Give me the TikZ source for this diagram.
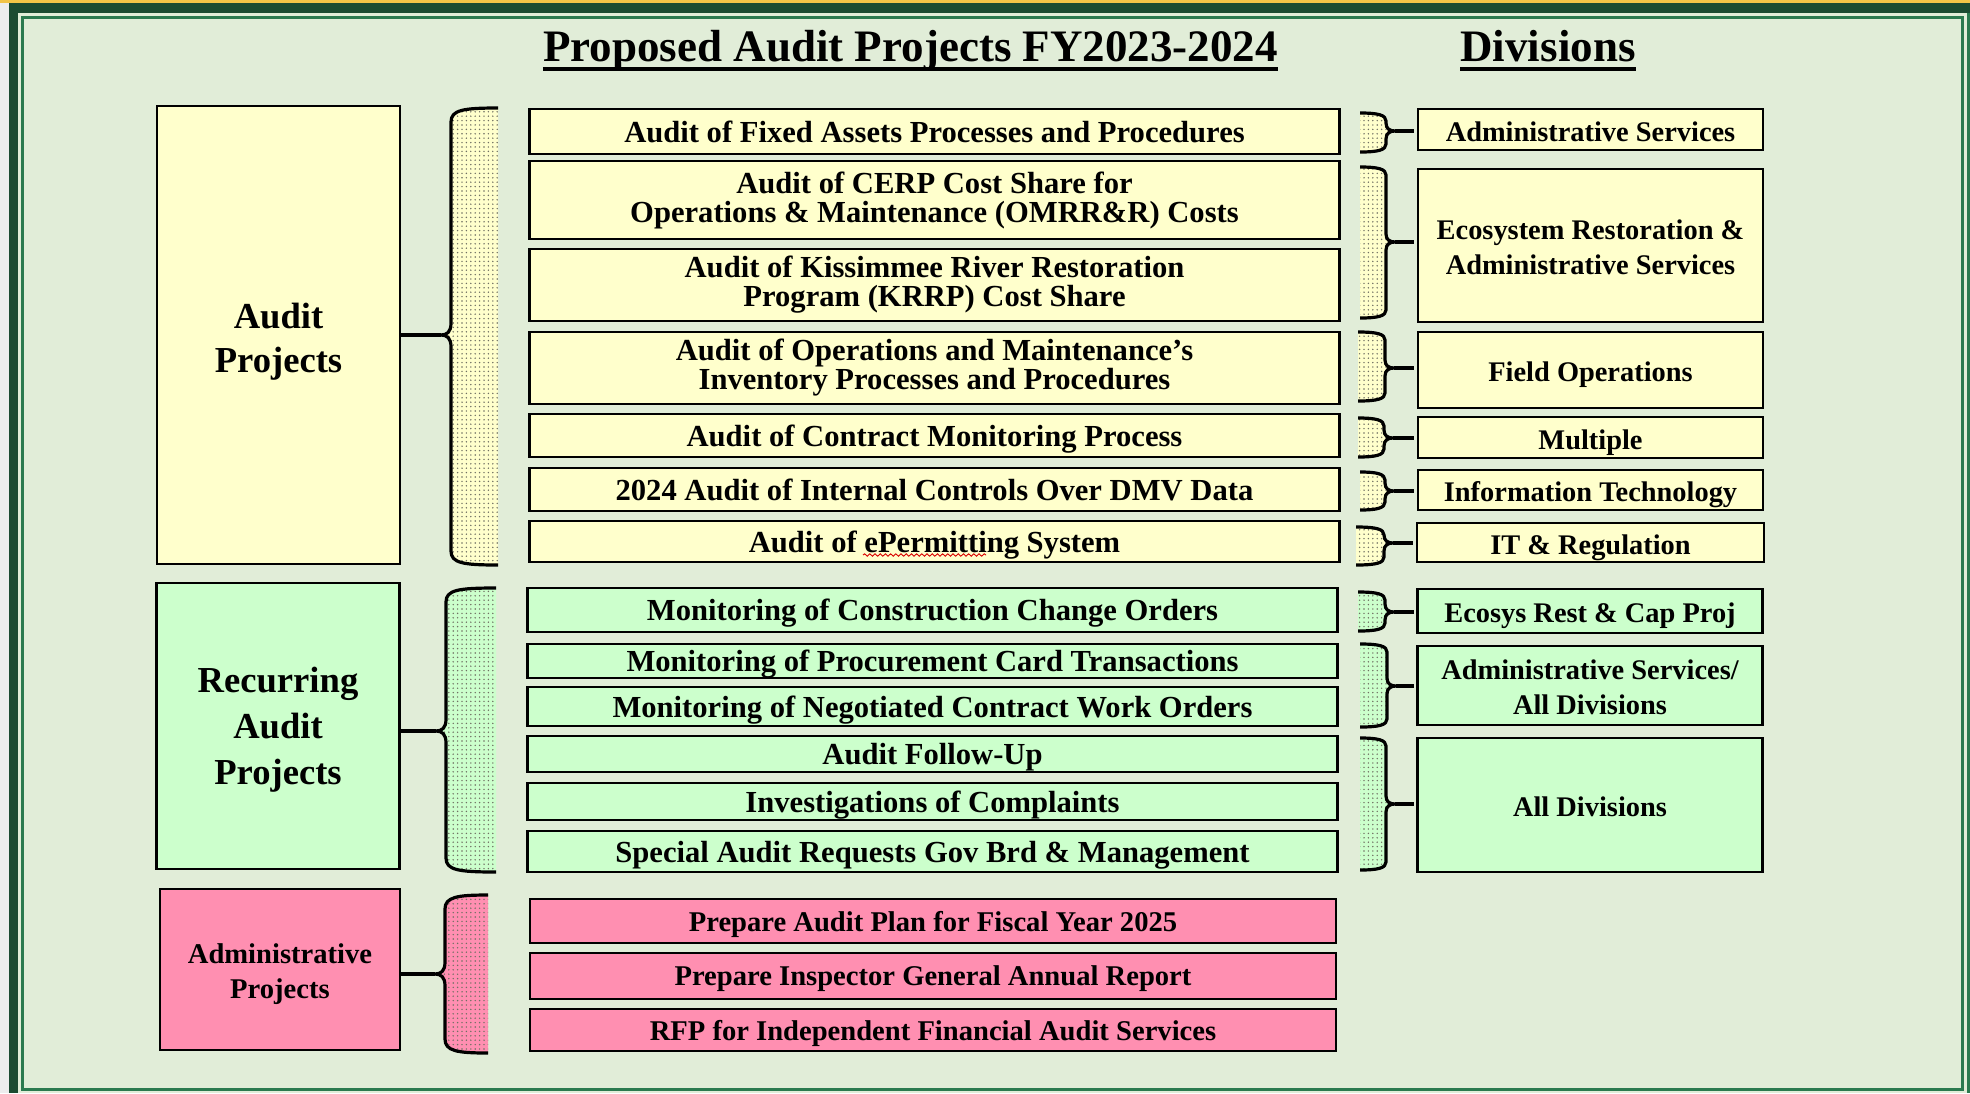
\documentclass[tikz,border=0pt]{standalone}
\usepackage{fontspec}
\setmainfont{Liberation Serif}
\usetikzlibrary{positioning,patterns.meta,decorations.pathmorphing}

\definecolor{pagebg}{HTML}{E1EDD8}
\definecolor{framedark}{HTML}{1B4B31}
\definecolor{frameline}{HTML}{2B7A4F}
\definecolor{topstrip}{HTML}{F2C447}
\definecolor{auditfill}{HTML}{FFFFCC}
\definecolor{recurfill}{HTML}{CCFFCC}
\definecolor{adminfill}{HTML}{FF8FB1}
\definecolor{dotgray}{HTML}{6F6F62}

\tikzset{
  box/.style={draw, line width=1.2pt, inner sep=0pt, outer sep=0pt, align=center},
  lower/.style={execute at begin node={\rule{0pt}{#1}}},
  item/.style={box, minimum width=405pt, text depth=0pt, font=\fontsize{15.3}{14.5}\selectfont\bfseries},
  division/.style={box, minimum width=172.5pt, text depth=0pt, lower=11.8pt, font=\fontsize{14.2}{17.5}\selectfont\bfseries},
  group/.style={box, line width=1.3pt, minimum width=121.5pt, text depth=0pt},
  bracestroke/.style={line width=1.6pt, line join=round},
  dotted fill/.style={preaction={fill=#1},
    preaction={pattern={Dots[distance=2.2pt,radius=.4pt]}, pattern color=dotgray}},
}

% brace opening to the right: node, line x, fill edge x, top, bottom, cusp y, colour
\newcommand\projbrace[7]{%
  \draw[bracestroke, dotted fill=#7]
    (#3,#4) .. controls (#2+12,#4) and (#2,#4+2) .. (#2,#4+14) -- (#2,#6-12)
    .. controls (#2,#6-3) and (#2-4,#6) .. (#2-10,#6)
    .. controls (#2-4,#6) and (#2,#6+3) .. (#2,#6+12) -- (#2,#5-14)
    .. controls (#2,#5-2) and (#2+12,#5) .. (#3,#5);
  \draw[bracestroke] (#2-10,#6) -- (#1.east |- 0,#6);
}
% brace opening to the left: node, fill edge x, line x, top, bottom, cusp y, colour
\newcommand\divbrace[7]{%
  \draw[bracestroke, dotted fill=#7]
    (#2,#4) .. controls (#3-8,#4) and (#3,#4+2) .. (#3,#4+8) -- (#3,#6-8)
    .. controls (#3,#6-2) and (#3+4,#6) .. (#3+9,#6)
    .. controls (#3+4,#6) and (#3,#6+2) .. (#3,#6+8) -- (#3,#5-8)
    .. controls (#3,#5-2) and (#3-8,#5) .. (#2,#5);
  \draw[bracestroke, shorten >=2pt] (#3+9,#6) -- (#1.west |- 0,#6);
}

\begin{document}
\begin{tikzpicture}[x=0.5pt, y=-0.5pt, node distance=5pt]
\useasboundingbox (0,0) rectangle (1970,1093);

% frame
\fill[black!7] (0,0) rectangle (1970,1093);
\fill[pagebg] (18,13) rectangle (1970,1093);
\fill[framedark] (9,3) rectangle (1970,13);
\fill[framedark] (9,3) rectangle (18,1093);
\fill[frameline] (1966.5,13) rectangle (1970,1093);
\fill[topstrip] (0,0) rectangle (1970,2.5);
\draw[frameline, line width=1.5pt] (22,17) rectangle (1962.5,1089);

% headings
\node (title) [anchor=base, inner sep=0pt, font=\fontsize{22.5}{27}\selectfont\bfseries] at (910.5,61) {Proposed Audit Projects FY2023-2024};
\node (divhead) [anchor=base, inner sep=0pt, font=\fontsize{22.5}{27}\selectfont\bfseries] at (1548,61) {Divisions};
\draw[line width=1.7pt] ([yshift=-4pt]title.base west) -- ([yshift=-4pt]title.base east);
\draw[line width=1.7pt] ([yshift=-4pt]divhead.base west) -- ([yshift=-4pt]divhead.base east);

% project groups
\node (AP) [group, fill=auditfill, minimum height=229pt, font=\fontsize{18.3}{22}\selectfont\bfseries] at (278.5,335) {\rule{0pt}{15pt}Audit\\Projects};
\node (RP) [group, fill=recurfill, minimum height=143pt, font=\fontsize{18.3}{23}\selectfont\bfseries] at (278,726) {Recurring\\Audit\\Projects};
\node (MP) [group, fill=adminfill, minimum width=120pt, minimum height=80.5pt, font=\fontsize{14.3}{17.5}\selectfont\bfseries] at (280,969.5) {\rule{0pt}{11.4pt}Administrative\\Projects};

% audit projects
\node (A1) [item, fill=auditfill, minimum height=22.5pt] at (934.5,131.5) {Audit of Fixed Assets Processes and Procedures};
\node (A2) [item, fill=auditfill, minimum height=39pt, text depth=, below=3.5pt of A1] {Audit of CERP Cost Share for\\Operations \& Maintenance (OMRR\&R) Costs};
\node (A3) [item, fill=auditfill, minimum height=36pt, text depth=, below=5pt of A2] {Audit of Kissimmee River Restoration\\Program (KRRP) Cost Share};
\node (A4) [item, fill=auditfill, minimum height=36pt, text depth=, below=5.5pt of A3] {Audit of Operations and Maintenance’s\\Inventory Processes and Procedures};
\node (A5) [item, fill=auditfill, minimum height=21.5pt, below=5pt of A4] {Audit of Contract Monitoring Process};
\node (A6) [item, fill=auditfill, minimum height=21.5pt, below=5.5pt of A5] {2024 Audit of Internal Controls Over DMV Data};
\node (A7) [item, fill=auditfill, minimum height=20.5pt, below=5pt of A6] {Audit of ePermitting System};
\draw[red!85!black, line width=.45pt, decorate, decoration={snake, amplitude=.6pt, segment length=2.6pt}] (863,555) -- (986,555);

% recurring audit projects
\node (R1) [item, fill=recurfill, minimum height=22pt] at (932.5,610) {Monitoring of Construction Change Orders};
\node (R2) [item, fill=recurfill, minimum height=17pt, below=6pt of R1] {Monitoring of Procurement Card Transactions};
\node (R3) [item, fill=recurfill, minimum height=19.5pt, below=4.5pt of R2] {Monitoring of Negotiated Contract Work Orders};
\node (R4) [item, fill=recurfill, minimum height=18pt, below=5pt of R3] {Audit Follow-Up};
\node (R5) [item, fill=recurfill, minimum height=18.5pt, below=5.5pt of R4] {Investigations of Complaints};
\node (R6) [item, fill=recurfill, minimum height=20.5pt, below=5.5pt of R5] {Special Audit Requests Gov Brd \& Management};

% administrative projects
\node (M1) [item, fill=adminfill, minimum width=403pt, minimum height=22pt, font=\fontsize{14.3}{17}\selectfont\bfseries] at (933,921) {Prepare Audit Plan for Fiscal Year 2025};
\node (M2) [item, fill=adminfill, minimum width=403pt, minimum height=23pt, font=\fontsize{14.3}{17}\selectfont\bfseries, below=5pt of M1] {Prepare Inspector General Annual Report};
\node (M3) [item, fill=adminfill, minimum width=403pt, minimum height=21pt, font=\fontsize{14.3}{17}\selectfont\bfseries, below=5pt of M2] {RFP for Independent Financial Audit Services};

% divisions
\node (D1) [division, fill=auditfill, minimum height=20.5pt] at (1590.5,129.5) {Administrative Services};
\node (D2) [division, fill=auditfill, minimum height=76.5pt, below=9.5pt of D1] {\rule{0pt}{11.8pt}Ecosystem Restoration \&\\Administrative Services};
\node (D3) [division, fill=auditfill, minimum height=38pt, below=5pt of D2] {Field Operations};
\node (D4) [division, fill=auditfill, minimum height=20.5pt, below=4.5pt of D3] {Multiple};
\node (D5) [division, fill=auditfill, minimum height=20pt, below=6pt of D4] {Information Technology};
\node (D6) [division, fill=auditfill, minimum width=173.5pt, minimum height=19.5pt, below=6.5pt of D5] {IT \& Regulation};
\node (D7) [division, fill=recurfill, minimum height=22pt] at (1590,611) {Ecosys Rest \& Cap Proj};
\node (D8) [division, fill=recurfill, minimum height=39.5pt, below=6.5pt of D7] {\rule{0pt}{11.3pt}Administrative Services/\\All Divisions};
\node (D9) [division, fill=recurfill, minimum height=67pt, below=6.5pt of D8] {All Divisions};

% braces
\projbrace{AP}{451}{498}{108}{565}{335}{auditfill}
\projbrace{RP}{446}{496}{588}{872}{731}{recurfill}
\projbrace{MP}{445}{488}{895}{1053}{974}{adminfill}

\divbrace{D1}{1360}{1386}{113}{152}{131}{auditfill}
\divbrace{D2}{1360}{1386}{167}{318}{242}{auditfill}
\divbrace{D3}{1358}{1385}{332}{401}{368}{auditfill}
\divbrace{D4}{1358}{1384}{418}{457}{438}{auditfill}
\divbrace{D5}{1360}{1385}{472}{510}{491}{auditfill}
\divbrace{D6}{1356}{1384}{527}{565}{543}{auditfill}
\divbrace{D7}{1358}{1385}{592}{631}{612}{recurfill}
\divbrace{D8}{1360}{1387}{644}{727}{686}{recurfill}
\divbrace{D9}{1360}{1386}{738}{870}{804}{recurfill}
\end{tikzpicture}
\end{document}
